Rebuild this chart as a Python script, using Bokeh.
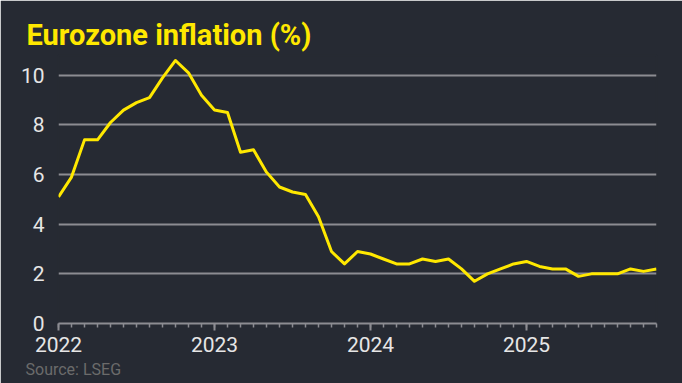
from bokeh.plotting import figure
from bokeh.models import FixedTicker, Range1d, Title
from bokeh.embed import file_html
from bokeh.resources import INLINE

# Months since Jan 2022 (Jan 2022 .. Nov 2025)
months = list(range(47))
inflation = [
    5.1, 5.9, 7.4, 7.4, 8.1, 8.6, 8.9, 9.1, 9.9, 10.6, 10.1, 9.2,   # 2022
    8.6, 8.5, 6.9, 7.0, 6.1, 5.5, 5.3, 5.2, 4.3, 2.9, 2.4, 2.9,     # 2023
    2.8, 2.6, 2.4, 2.4, 2.6, 2.5, 2.6, 2.2, 1.7, 2.0, 2.2, 2.4,     # 2024
    2.5, 2.3, 2.2, 2.2, 1.9, 2.0, 2.0, 2.0, 2.2, 2.1, 2.2,          # 2025
]
year_ticks = [0, 12, 24, 36]
year_labels = ["2022", "2023", "2024", "2025"]
y_ticks = [0, 2, 4, 6, 8, 10]

BG = "#262a33"
YELLOW = "#ffe800"
GRID = "#8c8c92"
TEXT = "#e6e6e6"

p = figure(width=682, height=383, output_backend="svg", toolbar_location=None,
           x_range=Range1d(0, 46), y_range=Range1d(0, 10.8),
           min_border_left=58, min_border_right=26, min_border_top=55, min_border_bottom=60)
p.background_fill_color = BG
p.border_fill_color = BG
p.outline_line_color = BG
p.outline_line_width = 2

p.line(months, inflation, line_color=YELLOW, line_width=3, line_join="round")

# x axis
p.xaxis.ticker = FixedTicker(ticks=year_ticks, minor_ticks=months)
p.xaxis.major_label_overrides = {t: l for t, l in zip(year_ticks, year_labels)}
p.xaxis.axis_line_color = GRID
p.xaxis.axis_line_width = 2
p.xaxis.major_tick_line_color = GRID
p.xaxis.major_tick_line_width = 2
p.xaxis.major_tick_in = 0
p.xaxis.major_tick_out = 7
p.xaxis.minor_tick_line_color = GRID
p.xaxis.minor_tick_line_width = 1.5
p.xaxis.minor_tick_in = 0
p.xaxis.minor_tick_out = 4
p.xaxis.major_label_text_color = TEXT
p.xaxis.major_label_text_font = "Roboto"
p.xaxis.major_label_text_font_size = "21px"
p.xaxis.major_label_standoff = 6

# y axis
p.yaxis.ticker = FixedTicker(ticks=y_ticks)
p.yaxis.axis_line_color = None
p.yaxis.major_tick_line_color = None
p.yaxis.minor_tick_line_color = None
p.yaxis.major_label_text_color = TEXT
p.yaxis.major_label_text_font = "Roboto"
p.yaxis.major_label_text_font_size = "21px"
p.yaxis.major_label_standoff = 8

p.xgrid.grid_line_color = None
p.ygrid.ticker = FixedTicker(ticks=[2, 4, 6, 8, 10])
p.ygrid.grid_line_color = GRID
p.ygrid.grid_line_width = 2

p.title = Title(text="Eurozone inflation (%)", text_color=YELLOW,
                text_font="Roboto", text_font_style="bold", text_font_size="29px",
                align="left", offset=-32, standoff=8)
source = Title(text="Source: LSEG", text_color="#6b6b6b",
               text_font="Roboto", text_font_style="normal", text_font_size="16px",
               align="left", offset=-33, standoff=7)
p.add_layout(source, "below")

open("out.html", "w").write(file_html(p, INLINE))
